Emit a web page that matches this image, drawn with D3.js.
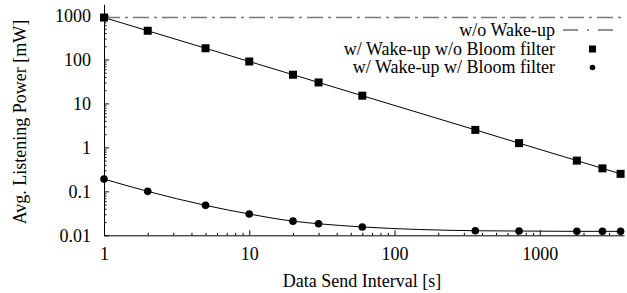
<!DOCTYPE html>
<html lang="en">
<head>
  <meta charset="UTF-8">
  <title>Avg. Listening Power</title>
  <script src="https://d3js.org/d3.v7.min.js"></script>
  <style>
    body { margin: 0; padding: 0; background: #fff; }
    svg text { font-family: "Liberation Serif", "Times New Roman", Times, "DejaVu Serif", serif !important; font-size: 18px; fill: #000; }
    .axis path, .axis line { stroke: #000; stroke-width: 1px; }
  </style>
</head>
<body>
  <svg id="chart"></svg>

  <script>
    // data send interval [s]
    const intervals = [1, 2, 5, 10, 20, 30, 60, 360, 720, 1800, 2700, 3600];
    // avg. listening power [mW]
    const noWakeup = 900;
    const wakeupNoBloom = [900, 450, 180, 90, 45, 30, 15, 2.5, 1.25, 0.5, 0.333, 0.25];
    const wakeupBloom = [0.19, 0.1, 0.048, 0.0305, 0.021, 0.0183, 0.0155, 0.0127, 0.0125, 0.0123, 0.0123, 0.0123];

    const xTicks = [1, 10, 100, 1000];
    const yTicks = [0.01, 0.1, 1, 10, 100, 1000];
    const yTickLabels = ['0.01', '0.1', '1', '10', '100', '1000'];
    const legendLabels = ['w/o Wake-up', 'w/ Wake-up w/o Bloom filter', 'w/ Wake-up w/ Bloom filter'];

    const width = 627, height = 293;
    const serif = '"Liberation Serif", "Times New Roman", serif';
    const svg = d3.select('#chart').attr('width', width).attr('height', height);

    const x = d3.scaleLog().domain([1, 3800]).range([104, 624]);
    const y = d3.scaleLog().domain([0.01, 1800]).range([235.3, 4.3]);

    function minors(maxV) {
      const out = [];
      for (let d = 0.01; d < maxV; d *= 10) {
        for (let k = 2; k <= 9; k++) {
          const v = +(d * k).toPrecision(3);
          if (v <= maxV) out.push(v);
        }
      }
      return out;
    }

    // minor ticks
    svg.append('g').attr('class', 'axis')
      .attr('transform', `translate(0,${y.range()[0]})`)
      .call(d3.axisBottom(x).tickValues(minors(3800).filter(v => v > 1)).tickSize(-2.5).tickSizeOuter(0).tickFormat(''))
      .select('.domain').remove();
    svg.append('g').attr('class', 'axis')
      .attr('transform', `translate(${x.range()[0]},0)`)
      .call(d3.axisLeft(y).tickValues(minors(1800)).tickSize(-2.5).tickSizeOuter(0).tickFormat(''))
      .select('.domain').remove();

    // major ticks + labels
    svg.append('g').attr('class', 'axis')
      .attr('transform', `translate(0,${y.range()[0]})`)
      .attr('font-family', serif).attr('font-size', 18)
      .call(d3.axisBottom(x).tickValues(xTicks).tickSize(-5).tickSizeOuter(0).tickPadding(12).tickFormat(d3.format('d')))
      .attr('font-family', serif).attr('font-size', 18);
    svg.append('g').attr('class', 'axis')
      .attr('transform', `translate(${x.range()[0]},0)`)
      .call(d3.axisLeft(y).tickValues(yTicks).tickSize(-5).tickSizeOuter(0).tickPadding(13)
        .tickFormat((d, i) => yTickLabels[i]))
      .attr('font-family', serif).attr('font-size', 18);

    // axis titles
    svg.append('text')
      .attr('font-family', serif)
      .attr('x', 362).attr('y', 287)
      .attr('text-anchor', 'middle')
      .text('Data Send Interval [s]');
    svg.append('text')
      .attr('font-family', serif)
      .attr('transform', 'translate(26,122) rotate(-90)')
      .attr('text-anchor', 'middle')
      .text('Avg. Listening Power [mW]');

    // w/o wake-up
    svg.append('line')
      .attr('x1', x(1)).attr('x2', x.range()[1])
      .attr('y1', y(noWakeup)).attr('y2', y(noWakeup))
      .attr('stroke', '#777').attr('stroke-width', 1.5)
      .attr('stroke-dasharray', '16,5,3,5');

    const line = d3.line()
      .x((d, i) => x(intervals[i]))
      .y(d => y(d))
      .curve(d3.curveMonotoneX);

    [wakeupNoBloom, wakeupBloom].forEach(s => {
      svg.append('path').datum(s)
        .attr('d', line)
        .attr('fill', 'none')
        .attr('stroke', '#000')
        .attr('stroke-width', 1);
    });

    svg.selectAll('.sq').data(wakeupNoBloom).enter().append('rect')
      .attr('class', 'sq')
      .attr('x', (d, i) => x(intervals[i]) - 4)
      .attr('y', d => y(d) - 4)
      .attr('width', 8).attr('height', 8)
      .attr('fill', '#000');

    svg.selectAll('.ci').data(wakeupBloom).enter().append('circle')
      .attr('class', 'ci')
      .attr('cx', (d, i) => x(intervals[i]))
      .attr('cy', d => y(d))
      .attr('r', 3.8)
      .attr('fill', '#000');

    // legend
    const legY = [30, 49, 67.5];
    legendLabels.forEach((t, i) => {
      svg.append('text')
        .attr('font-family', serif)
        .attr('x', 555).attr('y', legY[i])
        .attr('dy', '0.33em')
        .attr('text-anchor', 'end')
        .text(t);
    });
    svg.append('line')
      .attr('x1', 563).attr('x2', 615)
      .attr('y1', legY[0]).attr('y2', legY[0])
      .attr('stroke', '#222').attr('stroke-width', 1)
      .attr('stroke-dasharray', '15,9,2,9');
    svg.append('rect')
      .attr('x', 589).attr('y', legY[1] - 3.5)
      .attr('width', 7).attr('height', 7)
      .attr('fill', '#000');
    svg.append('circle')
      .attr('cx', 592.5).attr('cy', legY[2])
      .attr('r', 2.8)
      .attr('fill', '#000');
  </script>
</body>
</html>
